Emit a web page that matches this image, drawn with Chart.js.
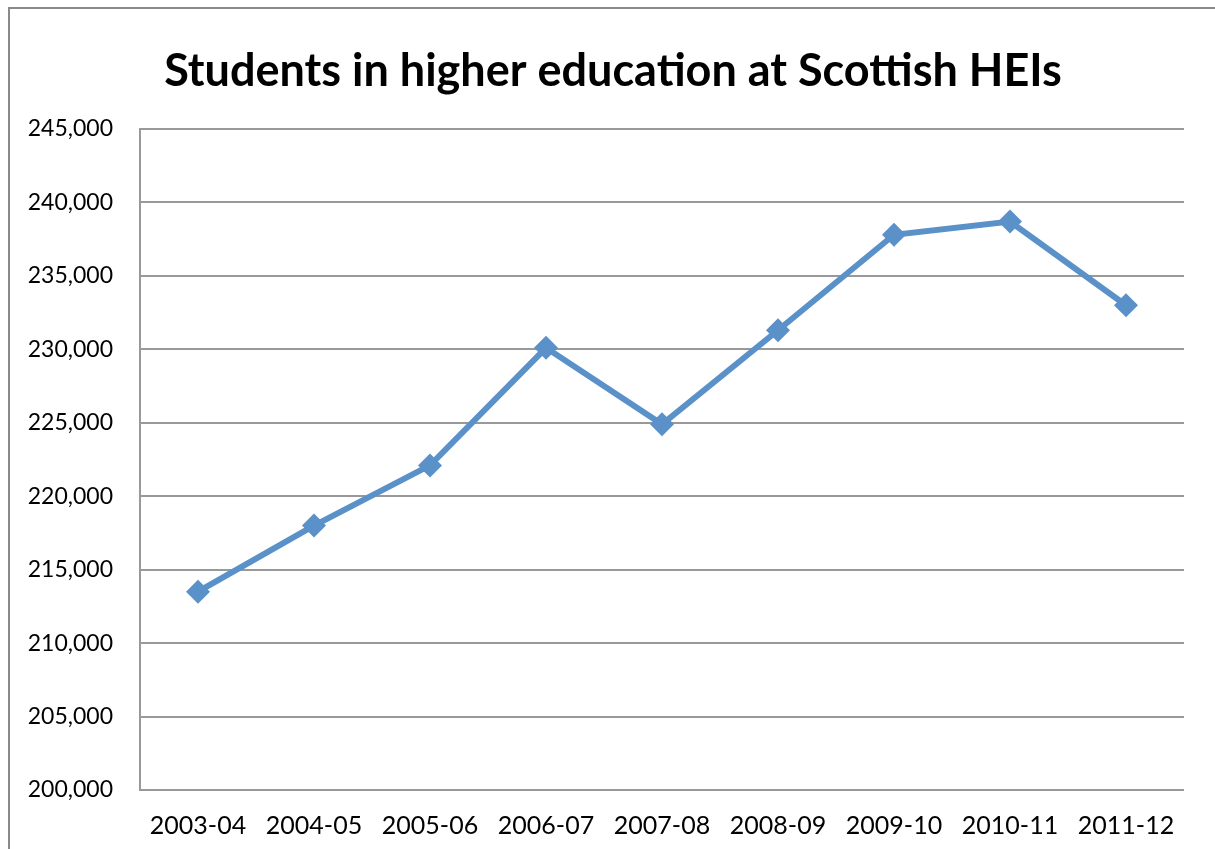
<!DOCTYPE html>
<html>
<head>
<meta charset="utf-8">
<title>Students in higher education at Scottish HEIs</title>
<script src="https://cdn.jsdelivr.net/npm/chart.js@4/dist/chart.umd.min.js"></script>
<style>
  html, body { margin: 0; padding: 0; background: #fff; overflow: hidden; }
  #wrap { position: relative; width: 1215px; height: 849px; }
  #frame {
    position: absolute; left: 8px; top: 7px; width: 1300px; height: 900px;
    border-left: 2px solid #8a8a8a; border-top: 2px solid #8a8a8a;
  }
  #chart { position: absolute; left: 0; top: 0; }
</style>
</head>
<body>
<div id="wrap">
  <div id="frame"></div>
  <canvas id="chart" width="1215" height="849"></canvas>
</div>
<script>
const chartTitle = 'Students in higher education at Scottish HEIs';
const years = ['2003-04', '2004-05', '2005-06', '2006-07', '2007-08', '2008-09', '2009-10', '2010-11', '2011-12'];
const students = [213500, 218000, 222100, 230100, 224900, 231300, 237800, 238700, 233000];
const yMin = 200000;
const yMax = 245000;
const yStep = 5000;

const gridColor = '#999999';
const lineColor = '#5B91C9';

// Title is centred on the framed area rather than on the plot box
const frameTitle = {
  id: 'frameTitle',
  afterDraw(chart) {
    const c = chart.ctx;
    c.save();
    c.font = 'bold 45px Lato';
    c.fillStyle = '#000';
    c.textAlign = 'center';
    c.textBaseline = 'alphabetic';
    c.fillText(chartTitle, 613, 86);
    c.restore();
  }
};

const ctx = document.getElementById('chart').getContext('2d');

new Chart(ctx, {
  type: 'line',
  data: {
    labels: years,
    datasets: [{
      label: 'Students',
      data: students,
      borderColor: lineColor,
      backgroundColor: lineColor,
      borderWidth: 6,
      pointStyle: 'rectRot',
      pointRadius: 12,
      pointHoverRadius: 12,
      pointBorderWidth: 0,
      tension: 0
    }]
  },
  options: {
    responsive: false,
    animation: false,
    layout: {
      padding: { left: 0, right: 31, top: 129, bottom: 0 }
    },
    plugins: {
      legend: { display: false },
      tooltip: { enabled: false },
      title: { display: false }
    },
    scales: {
      x: {
        offset: true,
        grid: { display: false, drawTicks: false },
        border: { display: false },
        ticks: {
          color: '#000',
          padding: 21,
          maxRotation: 0,
          font: { family: 'Lato', size: 25 }
        },
        afterFit: (scale) => { scale.height = 59; }
      },
      y: {
        min: yMin,
        max: yMax,
        grid: { color: gridColor, lineWidth: 2, drawTicks: false },
        border: { display: true, color: gridColor, width: 2 },
        ticks: {
          stepSize: yStep,
          color: '#000',
          padding: 27,
          font: { family: 'Lato', size: 23 },
          callback: (v) => v.toLocaleString('en-US')
        },
        afterFit: (scale) => { scale.width = 140; }
      }
    }
  },
  plugins: [frameTitle]
});
</script>
</body>
</html>
